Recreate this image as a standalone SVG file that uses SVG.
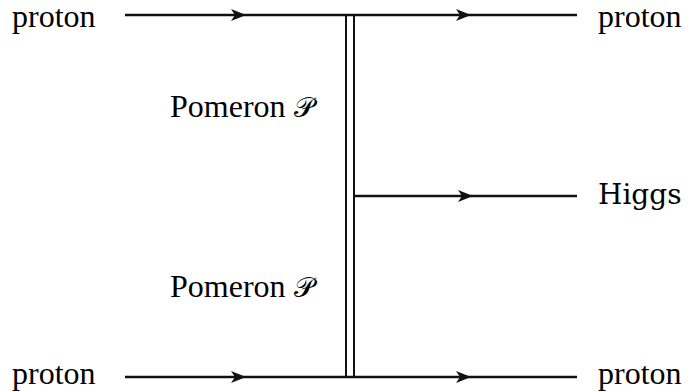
<svg xmlns="http://www.w3.org/2000/svg" width="691" height="392" viewBox="0 0 691 392">
<style>
.ln{stroke:#111;stroke-width:2.5;fill:none}
.dl{stroke:#111;stroke-width:2;fill:none}
.ah{fill:#111;stroke:none}
</style>
<rect width="691" height="392" fill="#fff"/>
<g id="connectors">
<line class="ln" x1="125" y1="15" x2="577" y2="15"/>
<line class="ln" x1="125" y1="377" x2="577" y2="377"/>
<line class="ln" x1="354" y1="196" x2="577" y2="196"/>
<line class="dl" x1="346" y1="15" x2="346" y2="377"/>
<line class="dl" x1="354" y1="15" x2="354" y2="377"/>
<path class="ah" d="M246,15 L231,9 L235,15 L231,21 Z"/>
<path class="ah" d="M471,15 L456,9 L460,15 L456,21 Z"/>
<path class="ah" d="M473,196 L458,190 L462,196 L458,202 Z"/>
<path class="ah" d="M246,377 L231,371 L235,377 L231,383 Z"/>
<path class="ah" d="M471,377 L456,371 L460,377 L456,383 Z"/>
</g>
<g id="proton-in-top"><text font-family="Liberation Serif" font-size="32" x="12" y="27">proton</text></g>
<g id="proton-out-top"><text font-family="serif" font-size="32" x="598" y="27">proton</text></g>
<g id="pomeron-top"><text font-family="Times New Roman" font-size="32" x="170" y="117">Pomeron</text><text font-family="DejaVu Serif" font-size="28" x="294" y="117">𝒫</text></g>
<g id="higgs"><text font-family="DejaVu Serif" font-size="28" x="598" y="204">Higgs</text></g>
<g id="pomeron-bottom"><text font-family="Liberation Serif" font-size="32" x="170" y="297">Pomeron</text><text font-family="DejaVu Serif" font-size="28" x="294" y="297">𝒫</text></g>
<g id="proton-in-bottom"><text font-family="Liberation Serif" font-size="32" x="12" y="384">proton</text></g>
<g id="proton-out-bottom"><text font-family="Liberation Serif" font-size="32" x="598" y="384">proton</text></g>
</svg>
